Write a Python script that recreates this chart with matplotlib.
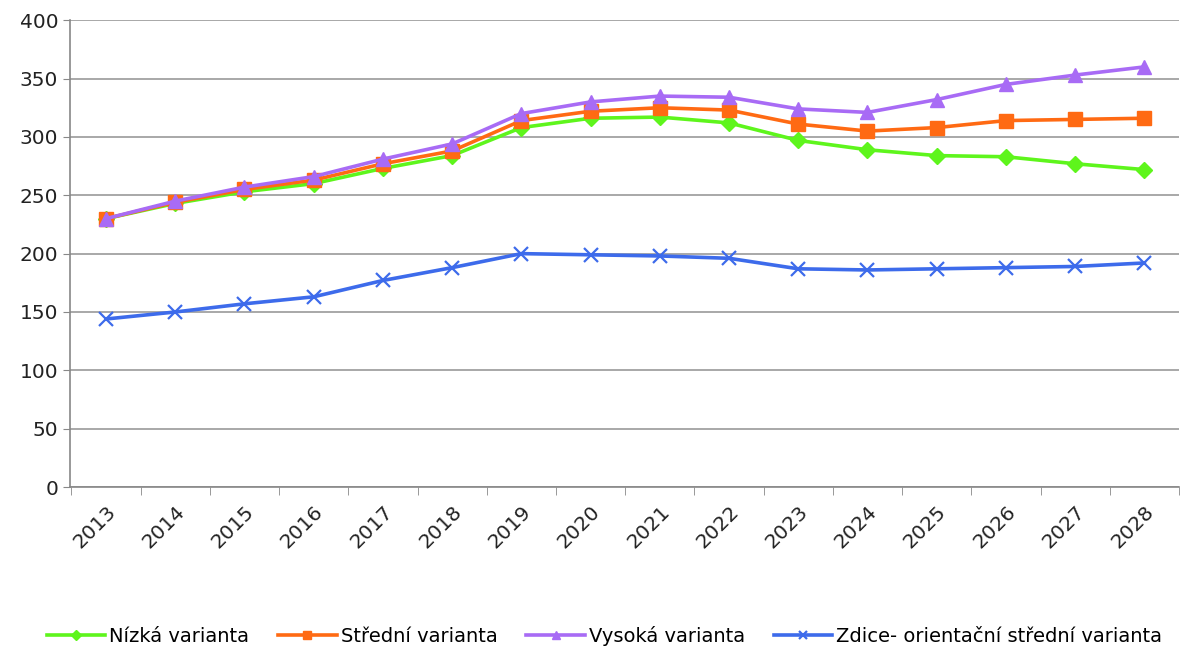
import numpy as np
from matplotlib import pyplot as plt

# data
years = [str(y) for y in range(2013, 2029)]
nizka = [230, 243, 253, 260, 273, 284, 308, 316, 317, 312, 297, 289, 284, 283, 277, 272]
stredni = [230, 244, 255, 263, 277, 288, 314, 322, 325, 323, 311, 305, 308, 314, 315, 316]
vysoka = [230, 245, 257, 266, 281, 294, 320, 330, 335, 334, 324, 321, 332, 345, 353, 360]
zdice = [144, 150, 157, 163, 177, 188, 200, 199, 198, 196, 187, 186, 187, 188, 189, 192]

labels = [
    "Nízká varianta",
    "Střední varianta",
    "Vysoká varianta",
    "Zdice- orientační střední varianta",
]

fig = plt.figure(figsize=(11.95, 6.52), dpi=100)
ax = fig.add_axes([0.0586, 0.253, 0.928, 0.716])

x = np.arange(len(years))
ax.plot(x, nizka, color="#5ef51c", lw=2.6, marker="D", ms=8.5, label=labels[0])
ax.plot(x, stredni, color="#ff6a13", lw=2.6, marker="s", ms=10, label=labels[1])
ax.plot(x, vysoka, color="#a86bf5", lw=2.6, marker="^", ms=10.5, label=labels[2])
ax.plot(x, zdice, color="#3d6beb", lw=2.6, marker="x", ms=10, mew=1.6, label=labels[3])

ax.set_xlim(-0.52, len(years) - 0.5)
ax.set_ylim(0, 400)
ax.set_yticks(range(0, 401, 50))
ax.tick_params(axis="y", labelsize=14.5, length=5, color="#888888", labelcolor="#222222")

# year labels at category centres, tick marks at category boundaries
ax.set_xticks(x)
ax.set_xticklabels(years, rotation=45, fontsize=14.5, color="#222222",
                   ha="right", rotation_mode="anchor")
ax.tick_params(axis="x", which="major", length=0, pad=11)
ax.set_xticks(np.arange(-0.5, len(years)), minor=True)
ax.tick_params(axis="x", which="minor", length=6, color="#888888")

ax.grid(axis="y", color="#999999", lw=1.2)
ax.set_axisbelow(True)
for side in ["top", "right"]:
    ax.spines[side].set_visible(False)
for side in ["left", "bottom"]:
    ax.spines[side].set_color("#888888")
    ax.spines[side].set_linewidth(1.2)

ax.legend(
    loc="upper center",
    bbox_to_anchor=(0.482, -0.26),
    ncol=4,
    frameon=False,
    fontsize=14,
    handlelength=3.0,
    handletextpad=0.2,
    columnspacing=1.5,
    markerscale=0.6,
)

fig.savefig("out.png")
